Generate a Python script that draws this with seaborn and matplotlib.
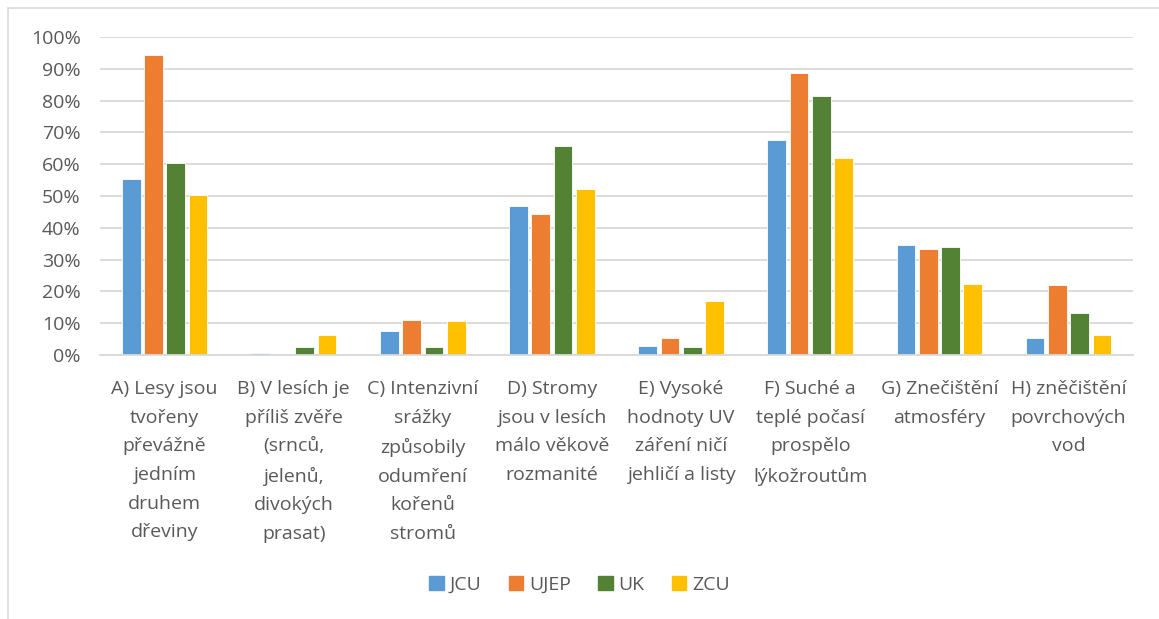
import pandas as pd
import matplotlib.pyplot as plt
import matplotlib.patches as mpatches
import seaborn as sns
import numpy as np

# Category labels (wrapped as in the original)
categories = [
    "A) Lesy jsou\ntvořeny\npřevážně\njedním\ndruhem\ndřeviny",
    "B) V lesích je\npříliš zvěře\n(srnců,\njelenů,\ndivokých\nprasat)",
    "C) Intenzivní\nsrážky\nzpůsobily\nodumření\nkořenů\nstromů",
    "D) Stromy\njsou v lesích\nmálo věkově\nrozmanité",
    "E) Vysoké\nhodnoty UV\nzáření ničí\njehličí a listy",
    "F) Suché a\nteplé počasí\nprospělo\nlýkožroutům",
    "G) Znečištění\natmosféry",
    "H) zněčištění\npovrchových\nvod",
]

# Share of respondents per university (fraction)
jcu = [0.552, 0.007, 0.076, 0.468, 0.029, 0.676, 0.345, 0.052]
ujep = [0.942, 0.0, 0.110, 0.444, 0.054, 0.887, 0.333, 0.221]
uk = [0.604, 0.025, 0.025, 0.657, 0.025, 0.814, 0.341, 0.131]
zcu = [0.503, 0.063, 0.107, 0.521, 0.169, 0.620, 0.224, 0.063]

series = ["JCU", "UJEP", "UK", "ZCU"]
colors = ["#5B9BD5", "#ED7D31", "#548235", "#FFC000"]

df = pd.DataFrame({
    "kategorie": categories * 4,
    "univerzita": np.repeat(series, len(categories)),
    "podil": jcu + ujep + uk + zcu,
})

sns.set_theme(style="white")
plt.rcParams["font.family"] = ["Open Sans", "DejaVu Sans"]
text_col = "#595959"
fs = 14

fig = plt.figure(figsize=(11.59, 6.19), dpi=100)
ax = fig.add_axes([0.0863, 0.4265, 0.8913, 0.5137])

sns.barplot(data=df, x="kategorie", y="podil", hue="univerzita",
            palette=colors, saturation=1, width=0.69, gap=0.16, ax=ax,
            edgecolor="white", linewidth=0.6, legend=False)

ax.set_ylim(0, 1.0)
ax.set_xlim(-0.5, len(categories) - 0.5)
ax.set_yticks(np.arange(0, 1.01, 0.1))
ax.set_yticklabels([f"{int(round(v * 100))}%" for v in np.arange(0, 1.01, 0.1)],
                   fontsize=fs, color=text_col)
ax.yaxis.grid(True, color="#D9D9D9", linewidth=1.3)
ax.set_axisbelow(True)
for s in ["top", "right", "left"]:
    ax.spines[s].set_visible(False)
ax.spines["bottom"].set_color("#D9D9D9")
ax.spines["bottom"].set_linewidth(1.3)
ax.tick_params(axis="y", length=0, pad=14)
ax.tick_params(axis="x", length=0, pad=18)
ax.set_xticks(range(len(categories)))
ax.set_xticklabels(categories, fontsize=fs, color=text_col,
                   linespacing=1.76, va="top", ha="center")
ax.set_xlabel("")
ax.set_ylabel("")

handles = [mpatches.Patch(color=c, label=s) for s, c in zip(series, colors)]
fig.legend(handles=handles, loc="center", bbox_to_anchor=(0.5, 0.055),
           ncol=4, frameon=False, fontsize=fs, handlelength=0.75,
           handleheight=0.75, handletextpad=0.3, columnspacing=1.4,
           labelcolor=text_col)

# light chart-area frame (top and left edges visible)
fig.patches.append(mpatches.Rectangle((8 / 1159, -0.1), 1.2, 1.1 - 8 / 619,
                                      transform=fig.transFigure, fill=False,
                                      edgecolor="#D9D9D9", linewidth=1.2))

fig.savefig("out.png", dpi=100)
